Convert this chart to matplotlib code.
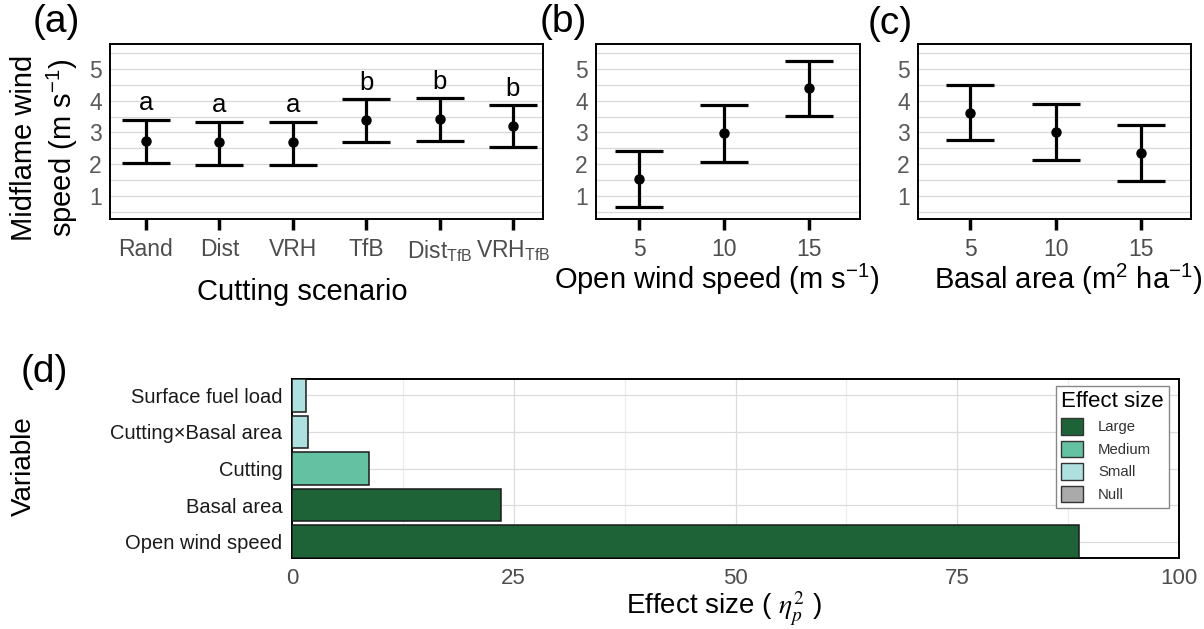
import numpy as np
import matplotlib
matplotlib.use("Agg")
import matplotlib.pyplot as plt
from matplotlib.patches import Patch

plt.rcParams['font.family'] = ['Liberation Sans', 'DejaVu Sans']
plt.rcParams['mathtext.fontset'] = 'custom'
plt.rcParams['mathtext.rm'] = 'Liberation Sans'
plt.rcParams['mathtext.it'] = 'Liberation Sans:italic'
plt.rcParams['mathtext.bf'] = 'Liberation Sans:bold'

# ---- data -------------------------------------------------------------
scenarios = ['Rand', 'Dist', 'VRH', 'TfB',
             r'Dist$_{\mathrm{TfB}}$', r'VRH$_{\mathrm{TfB}}$']
scen_mean = [2.72, 2.69, 2.69, 3.40, 3.42, 3.21]
scen_lower = [2.03, 1.99, 1.99, 2.71, 2.72, 2.53]
scen_upper = [3.40, 3.34, 3.34, 4.05, 4.08, 3.85]
scen_group = ['a', 'a', 'a', 'b', 'b', 'b']

wind_levels = ['5', '10', '15']
wind_mean = [1.55, 2.97, 4.39]
wind_lower = [0.66, 2.06, 3.52]
wind_upper = [2.42, 3.85, 5.25]

basal_levels = ['5', '10', '15']
basal_mean = [3.62, 3.00, 2.35]
basal_lower = [2.77, 2.12, 1.48]
basal_upper = [4.49, 3.88, 3.23]

variables = ['Open wind speed', 'Basal area', 'Cutting',
             'Cutting×Basal area', 'Surface fuel load']
effect = [88.7, 23.6, 8.7, 1.8, 1.6]
effect_class = ['Large', 'Large', 'Medium', 'Small', 'Small']
class_names = ['Large', 'Medium', 'Small', 'Null']
class_colors = ['#1e6337', '#64c1a2', '#afe0e0', '#aaaaaa']

# ---- layout -----------------------------------------------------------
W, H = 1204, 629
fig = plt.figure(figsize=(W / 100, H / 100), dpi=100)


def px_box(x0, y0, x1, y1):
    return [x0 / W, 1 - y1 / H, (x1 - x0) / W, (y1 - y0) / H]


def fx(x):
    return x / W


def fy(y):
    return 1 - y / H


TICK_GREY = '#4d4d4d'


def interval_panel(ax, labels, mean, lower, upper, xlim):
    x = np.arange(1, len(labels) + 1)
    m = np.asarray(mean)
    lo = np.asarray(lower)
    up = np.asarray(upper)
    ax.errorbar(x, m, yerr=[m - lo, up - m], fmt='o', color='black',
                ms=6.5, elinewidth=2.3, capsize=17.3, capthick=2.3, zorder=3)
    ax.set_xlim(*xlim)
    ax.set_ylim(0.28, 5.78)
    ax.set_yticks([1, 2, 3, 4, 5])
    ax.set_yticks(np.arange(0.5, 6.0, 1.0), minor=True)
    ax.grid(True, axis='y', which='both', color='#d9d9d9', lw=0.9)
    ax.set_axisbelow(True)
    ax.set_xticks(x, labels)
    ax.tick_params(axis='x', length=8, width=2.5, color='black',
                   labelsize=16.5, labelcolor=TICK_GREY, pad=6)
    ax.tick_params(axis='y', which='both', length=0, labelsize=16.5,
                   labelcolor='#595959', pad=6)
    for s in ax.spines.values():
        s.set_linewidth(1.4)
        s.set_color('black')


# (a) cutting scenario
ax_a = fig.add_axes(px_box(110, 44, 543, 219))
interval_panel(ax_a, scenarios, scen_mean, scen_lower, scen_upper, (0.51, 6.41))
for i, (u, g) in enumerate(zip(scen_upper, scen_group)):
    ax_a.text(i + 1, u + 0.3, g, ha='center', va='baseline', size=18.5, color='black')

# (b) open wind speed
ax_b = fig.add_axes(px_box(596, 44, 860, 219))
interval_panel(ax_b, wind_levels, wind_mean, wind_lower, wind_upper, (0.494, 3.6))

# (c) basal area
ax_c = fig.add_axes(px_box(918, 44, 1191, 219))
interval_panel(ax_c, basal_levels, basal_mean, basal_lower, basal_upper, (0.39, 3.58))

fig.text(fx(45), fy(148), 'Midflame wind\nspeed (m s$^{-1}$)', rotation=90,
         ha='center', va='center', size=21, linespacing=1.25,
         multialignment='center')
fig.text(fx(302), fy(300), 'Cutting scenario', ha='center', va='baseline', size=21)
fig.text(fx(717), fy(289), 'Open wind speed (m s$^{-1}$)', ha='center',
         va='baseline', size=21)
fig.text(fx(1068), fy(289), 'Basal area (m$^{2}$ ha$^{-1}$)', ha='center',
         va='baseline', size=21)

for lab, x, y in [('(a)', 33, 22), ('(b)', 540, 22), ('(c)', 868, 24), ('(d)', 21, 372)]:
    fig.text(fx(x), fy(y), lab, ha='left', va='center', size=28)

# (d) effect sizes
ax_d = fig.add_axes(px_box(292, 379, 1179, 558))
yy = np.arange(1, len(variables) + 1)
colour_of = dict(zip(class_names, class_colors))
ax_d.barh(yy, effect, height=0.9, color=[colour_of[c] for c in effect_class],
          edgecolor='#1a1a1a', linewidth=1.1, zorder=3)
ax_d.set_xlim(0, 100)
ax_d.set_ylim(0.55, 5.45)
ax_d.set_xticks([0, 25, 50, 75, 100])
ax_d.set_xticks(np.arange(12.5, 100, 25), minor=True)
ax_d.set_yticks(yy, variables)
ax_d.grid(True, which='major', color='#dcdcdc', lw=0.9)
ax_d.grid(True, which='minor', axis='x', color='#ececec', lw=0.8)
ax_d.set_axisbelow(True)
ax_d.tick_params(axis='x', which='both', length=0, labelsize=16,
                 labelcolor=TICK_GREY, pad=7)
ax_d.tick_params(axis='y', which='both', length=0, labelsize=14.5,
                 labelcolor='#1a1a1a', pad=7)
for s in ax_d.spines.values():
    s.set_linewidth(1.4)
    s.set_color('black')

handles = [Patch(facecolor=c, edgecolor='#333333', linewidth=1.0, label=n)
           for n, c in zip(class_names, class_colors)]
leg = ax_d.legend(handles=handles, title='Effect size', loc='upper right',
                  bbox_to_anchor=((1169 - 292) / 887, 1 - (386 - 379) / 179),
                  fontsize=10.7, title_fontsize=16, frameon=True,
                  fancybox=False, edgecolor='#888888', framealpha=1,
                  handlelength=1.48, handleheight=1.34, labelspacing=0.4,
                  handletextpad=1.0, borderpad=0.35, borderaxespad=0,
                  alignment='left')
leg.get_frame().set_linewidth(1.0)
for t in leg.get_texts():
    t.set_color('#333333')

fig.text(fx(24), fy(466), 'Variable', rotation=90, ha='center', va='center', size=20)
fig.text(fx(724), fy(608), r'Effect size ( $\eta_p^2$ )', ha='center', va='center',
         size=20, math_fontfamily='stix')

fig.savefig('out.png', dpi=100)
